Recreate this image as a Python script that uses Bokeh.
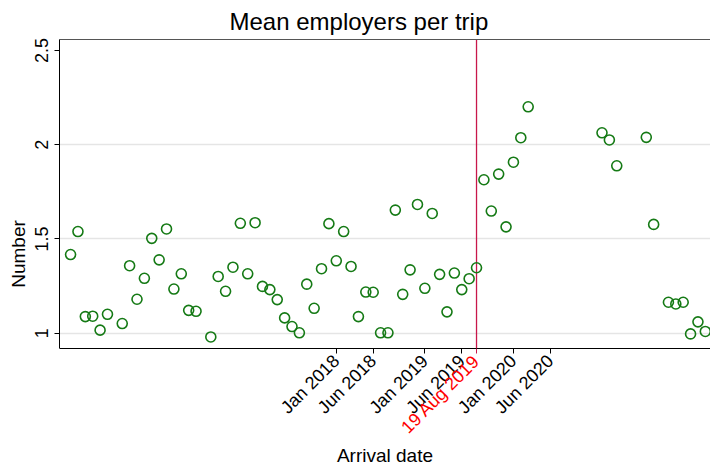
import math
from bokeh.plotting import figure
from bokeh.models import Range1d, FixedTicker, LinearAxis
from bokeh.embed import file_html
from bokeh.resources import INLINE

# Month index: 0 = Jan 2018
months = [-36, -35, -34, -33, -32, -31, -29, -28, -27, -26, -25, -24, -23, -22, -21,
          -20, -19, -17, -16, -15, -14, -13, -12, -11, -10, -9, -8, -7, -6, -5,
          -4, -3, -2, -1, 0, 1, 2, 3, 4, 5, 6, 7, 8, 9, 10, 11, 12, 13, 14, 15,
          16, 17, 18, 19, 20, 21, 22, 23, 24, 25, 26, 36, 37, 38, 42, 43, 45,
          46, 47, 48, 49, 50]
employers = [1.417, 1.539, 1.088, 1.090, 1.016, 1.100, 1.051, 1.358, 1.180, 1.291,
             1.503, 1.389, 1.553, 1.234, 1.315, 1.121, 1.116, 0.980, 1.301, 1.222,
             1.350, 1.583, 1.315, 1.586, 1.248, 1.231, 1.178, 1.081, 1.035, 1.002,
             1.260, 1.132, 1.342, 1.581, 1.384, 1.539, 1.354, 1.088, 1.218, 1.217,
             1.002, 1.002, 1.653, 1.206, 1.336, 1.683, 1.238, 1.635, 1.312, 1.113,
             1.319, 1.231, 1.289, 1.347, 1.814, 1.648, 1.844, 1.564, 1.907, 2.037,
             2.201, 2.063, 2.025, 1.888, 2.039, 1.577, 1.164, 1.155, 1.164, 0.996,
             1.060, 1.009]

tick_months = [0, 5, 12, 17, 24, 29]
tick_labels = ["Jan 2018", "Jun 2018", "Jan 2019", "Jun 2019", "Jan 2020", "Jun 2020"]
event_month = 19
event_label = "19 Aug 2019"
y_ticks = [1, 1.5, 2, 2.5]
y_tick_labels = ["1", "1.5", "2", "2.5"]

FONT = "Liberation Sans"
X_MIN, X_MAX = -37.5, 50.7
Y_MIN, Y_MAX = 0.921, 2.558      # visible plot region
Y_CANVAS_BOTTOM = 0.282          # frame extended down so the rotated labels are not clipped
LINE_RED = "#C8174B"
GREEN = "#157a15"

p = figure(width=710, height=468, output_backend="svg", toolbar_location=None,
           x_range=Range1d(X_MIN, X_MAX), y_range=Range1d(Y_CANVAS_BOTTOM, Y_MAX),
           x_axis_location=None,
           min_border_left=59, min_border_right=0, min_border_top=36,
           min_border_bottom=0)

p.title.text = "Mean employers per trip"
p.title.text_font = FONT
p.title.text_font_size = "24px"
p.title.text_font_style = "normal"
p.title.text_color = "black"
p.title.align = "left"
p.title.offset = 170
p.title.standoff = 10

p.outline_line_color = None
p.background_fill_color = "white"
p.border_fill_color = "white"

p.xgrid.visible = False
p.ygrid.ticker = FixedTicker(ticks=[1, 1.5, 2])
p.ygrid.grid_line_color = "#e5e5e5"
p.ygrid.grid_line_width = 1.5

# top border of the plot region
top = LinearAxis(ticker=FixedTicker(ticks=[]), axis_line_color="#555555",
                 major_label_text_font_size="0px", major_tick_line_color=None,
                 minor_tick_line_color=None)
p.add_layout(top, "above")

# main x axis, fixed at the bottom of the plot region
xa = LinearAxis(fixed_location=Y_MIN, ticker=FixedTicker(ticks=tick_months),
                major_label_overrides={m: l for m, l in zip(tick_months, tick_labels)},
                major_label_orientation=math.pi / 4,
                major_label_text_font=FONT, major_label_text_font_size="18px",
                major_label_text_color="black",
                axis_label="Arrival date", axis_label_text_font=FONT,
                axis_label_text_font_size="19px", axis_label_text_font_style="normal",
                axis_label_text_color="black", axis_label_standoff=17,
                minor_tick_line_color=None, major_tick_out=5, major_tick_in=0,
                axis_line_color="black", major_tick_line_color="black")
p.add_layout(xa, "below")

# red event label
ea = LinearAxis(fixed_location=Y_MIN, ticker=FixedTicker(ticks=[event_month]),
                major_label_overrides={event_month: event_label},
                major_label_orientation=math.pi / 4,
                major_label_text_font=FONT, major_label_text_font_size="18px",
                major_label_text_color="red", axis_line_color=None,
                major_tick_line_color=LINE_RED, major_tick_out=5, major_tick_in=0,
                minor_tick_line_color=None)
p.add_layout(ea, "below")

ya = p.yaxis[0]
ya.bounds = (Y_MIN, Y_MAX)
ya.ticker = FixedTicker(ticks=y_ticks)
ya.major_label_overrides = {t: l for t, l in zip(y_ticks, y_tick_labels)}
ya.major_label_orientation = "vertical"
ya.major_label_text_font = FONT
ya.major_label_text_font_size = "18px"
ya.major_label_text_color = "black"
ya.major_label_standoff = 6
ya.axis_label = "Number"
ya.axis_label_text_font = FONT
ya.axis_label_text_font_size = "19px"
ya.axis_label_text_font_style = "normal"
ya.axis_label_text_color = "black"
ya.axis_label_standoff = 4
ya.minor_tick_line_color = None
ya.major_tick_out = 5
ya.major_tick_in = 0
ya.axis_line_color = "black"
ya.major_tick_line_color = "black"

# event line spanning the plot region
p.segment(x0=[event_month], y0=[Y_MIN], x1=[event_month], y1=[Y_MAX],
          line_color=LINE_RED, line_width=1.3)

p.scatter(months, employers, marker="circle", size=10, fill_color=None,
          line_color=GREEN, line_width=1.6)

open("out.html", "w").write(file_html(p, INLINE))
